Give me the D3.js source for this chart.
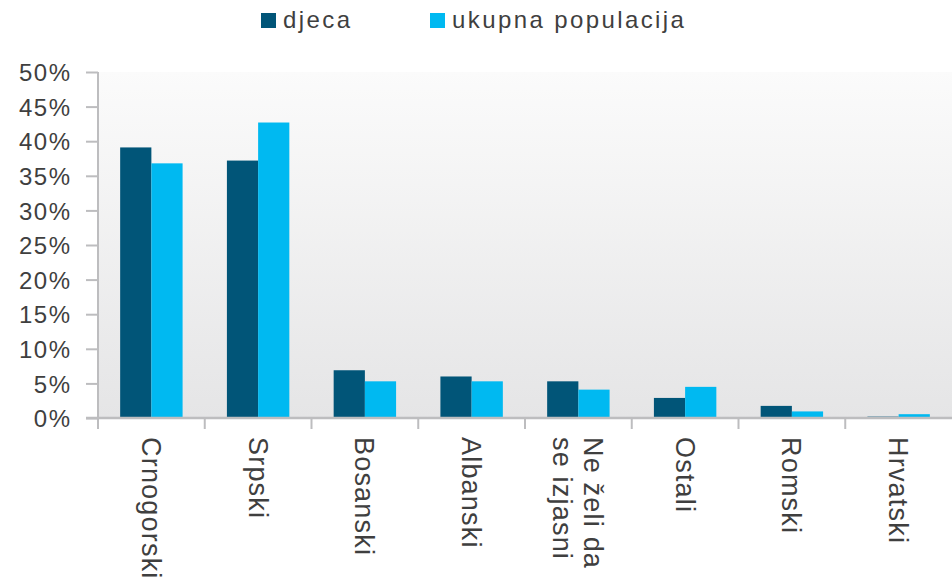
<!DOCTYPE html>
<html>
<head>
<meta charset="utf-8">
<script src="https://cdn.jsdelivr.net/npm/d3@7"></script>
<style>
  html, body { margin: 0; padding: 0; background: #ffffff; }
  svg { display: block; font-family: "Liberation Sans", Arial, sans-serif; }
</style>
</head>
<body>
<svg id="chart" width="952" height="585"></svg>
<script>
// Nationality / language groups
const categories = [
  ["Crnogorski"],
  ["Srpski"],
  ["Bosanski"],
  ["Albanski"],
  ["Ne želi da", "se izjasni"],
  ["Ostali"],
  ["Romski"],
  ["Hrvatski"]
];
const seriesNames = ["djeca", "ukupna populacija"];
const djeca = [39.1, 37.2, 6.9, 6.0, 5.3, 2.9, 1.75, 0.2];
const ukupna = [36.8, 42.7, 5.3, 5.3, 4.1, 4.5, 0.95, 0.55];
const yTicks = [0, 5, 10, 15, 20, 25, 30, 35, 40, 45, 50];
const colors = ["#015578", "#00b9f1"];

const svg = d3.select("#chart");
const W = 952;
const margin = { left: 98, right: 0, top: 72, bottom: 418 };

const keys = categories.map(c => c.join(" "));
const x = d3.scaleBand().domain(keys).range([margin.left, W]).padding(0);
const xs = d3.scaleBand().domain(seriesNames).range([0, x.bandwidth()])
  .paddingInner(0).paddingOuter(0.71);
const y = d3.scaleLinear().domain([0, 50]).range([margin.bottom, margin.top]);

// Plot-area background gradient
const defs = svg.append("defs");
const grad = defs.append("linearGradient").attr("id", "bg")
  .attr("x1", 0).attr("y1", 0).attr("x2", 0).attr("y2", 1);
grad.append("stop").attr("offset", "0%").attr("stop-color", "#fbfbfb");
grad.append("stop").attr("offset", "100%").attr("stop-color", "#e5e5e6");
svg.append("rect")
  .attr("x", margin.left).attr("y", y(50))
  .attr("width", W - margin.left).attr("height", y(0) - y(50))
  .attr("fill", "url(#bg)");

// Bars
const rows = keys.map((k, i) => ({ key: k, values: [djeca[i], ukupna[i]] }));
const groups = svg.append("g").selectAll("g").data(rows).join("g")
  .attr("transform", d => `translate(${x(d.key)},0)`);
groups.selectAll("rect")
  .data(d => d.values.map((v, j) => ({ name: seriesNames[j], v, j })))
  .join("rect")
  .attr("x", d => xs(d.name))
  .attr("y", d => y(d.v))
  .attr("width", xs.bandwidth())
  .attr("height", d => y(0) - y(d.v))
  .attr("fill", d => colors[d.j]);

// Y axis
const axisColor = "#bdbdbf";
const yAxis = svg.append("g").attr("transform", `translate(${margin.left},0)`)
  .call(d3.axisLeft(y).tickValues(yTicks).tickSize(12).tickPadding(16)
    .tickFormat(d => d + "%"));
yAxis.select(".domain").remove();
yAxis.selectAll(".tick line").attr("stroke", axisColor).attr("stroke-width", 2);
yAxis.selectAll(".tick text")
  .attr("fill", "#3f3f3f")
  .attr("font-size", 24)
  .attr("letter-spacing", 1.5)
  .attr("dx", 1.5)
  .attr("dy", "0.36em");
svg.append("line")
  .attr("x1", margin.left).attr("x2", margin.left)
  .attr("y1", y(50)).attr("y2", y(0) + 11)
  .attr("stroke", axisColor).attr("stroke-width", 2);

// X axis line and category separators
svg.append("line")
  .attr("x1", margin.left - 12).attr("x2", W)
  .attr("y1", y(0)).attr("y2", y(0))
  .attr("stroke", axisColor).attr("stroke-width", 2.5);
svg.append("g").selectAll("line").data(keys.slice(1)).join("line")
  .attr("x1", d => x(d)).attr("x2", d => x(d))
  .attr("y1", y(0)).attr("y2", y(0) + 11)
  .attr("stroke", axisColor).attr("stroke-width", 2);

// Category labels, rotated to read downward
const lineH = 31;
const labels = svg.append("g").selectAll("text").data(categories).join("text")
  .attr("transform", (d, i) =>
    `translate(${x(keys[i]) + x.bandwidth() / 2},437) rotate(90)`)
  .attr("fill", "#3f3f3f")
  .attr("font-size", 27)
  .attr("letter-spacing", 1.2);
labels.selectAll("tspan").data(d => d.map((t, k) => ({ t, k, n: d.length })))
  .join("tspan")
  .attr("x", 0)
  .attr("y", d => (d.k - (d.n - 1) / 2) * lineH)
  .attr("dy", "0.35em")
  .text(d => d.t);

// Legend
const legendX = [261, 430];
const legend = svg.append("g").selectAll("g").data(seriesNames).join("g")
  .attr("transform", (d, i) => `translate(${legendX[i]},13)`);
legend.append("rect").attr("width", 15).attr("height", 15)
  .attr("fill", (d, i) => colors[i]);
legend.append("text")
  .attr("x", 22).attr("y", 15)
  .attr("fill", "#3f3f3f")
  .attr("font-size", 24)
  .attr("letter-spacing", 2.4)
  .text(d => d);
</script>
</body>
</html>
